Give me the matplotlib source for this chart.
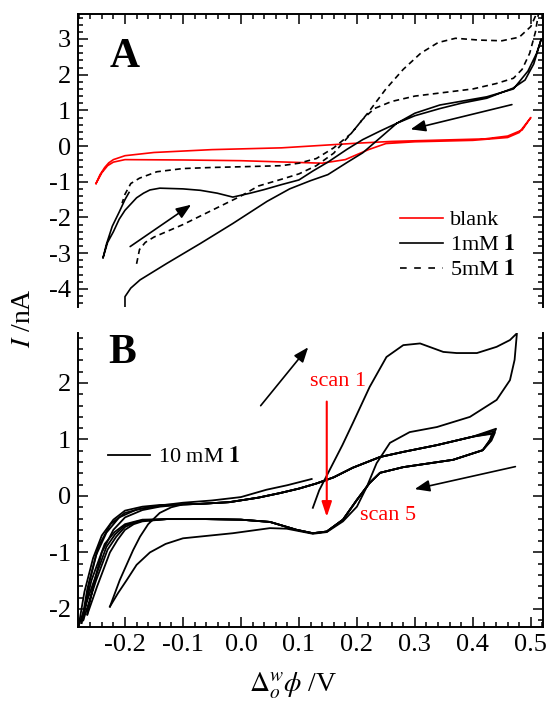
import matplotlib
matplotlib.use("Agg")
import matplotlib.pyplot as plt
from matplotlib.lines import Line2D
from matplotlib.ticker import MultipleLocator, FormatStrFormatter

plt.rcParams['font.family'] = ['Liberation Serif', 'DejaVu Serif']
plt.rcParams['mathtext.fontset'] = 'stix'
plt.rcParams['axes.unicode_minus'] = False

# ---------------- panel A: blank, 1 mM, 5 mM ----------------
BLANK_X = [-0.25, -0.243, -0.235, -0.228, -0.22, -0.2, -0.15, -0.05, 0.07, 0.2, 0.26, 0.35, 0.42, 0.46,
           0.485, 0.5,
           0.48, 0.46, 0.4, 0.3, 0.25, 0.22, 0.18, 0.14, 0.1, 0.0, -0.1, -0.2, -0.22, -0.23, -0.24, -0.25]
BLANK_I = [-1.05, -0.8, -0.6, -0.47, -0.38, -0.27, -0.18, -0.1, -0.05, 0.08, 0.13, 0.17, 0.2, 0.28,
           0.45, 0.8,
           0.38, 0.24, 0.16, 0.12, 0.07, -0.1, -0.38, -0.48, -0.46, -0.41, -0.39, -0.38, -0.45, -0.55,
           -0.75, -1.05]

MM1_X = [-0.2, -0.2, -0.19, -0.174, -0.128, -0.07, -0.014, 0.045, 0.084, 0.12, 0.15, 0.183, 0.21, 0.24,
         0.269, 0.3, 0.343, 0.424, 0.47, 0.495, 0.51, 0.518,
         0.505, 0.49, 0.469, 0.424, 0.38, 0.343, 0.3, 0.269, 0.24, 0.21, 0.183, 0.15, 0.124, 0.1, 0.07,
         0.04, 0.016, -0.014, -0.041, -0.07, -0.1, -0.14, -0.157, -0.168, -0.18, -0.2, -0.21, -0.22,
         -0.23, -0.238,
         -0.232, -0.222, -0.21, -0.2, -0.193]
MM1_I = [-4.6, -4.22, -3.98, -3.75, -3.29, -2.73, -2.17, -1.55, -1.2, -0.97, -0.8, -0.46, -0.19, 0.23,
         0.64, 0.92, 1.15, 1.38, 1.6, 2.1, 2.6, 3.0,
         2.3, 1.85, 1.62, 1.34, 1.2, 1.05, 0.85, 0.64, 0.42, 0.18, -0.09, -0.45, -0.7, -0.95, -1.08,
         -1.22, -1.32, -1.43, -1.32, -1.24, -1.2, -1.18, -1.23, -1.32, -1.45, -1.8, -2.05, -2.4,
         -2.7, -3.14,
         -2.75, -2.25, -1.85, -1.5, -1.3]

MM5_X = [-0.18, -0.175, -0.165, -0.15, -0.1, -0.05, 0.0, 0.03, 0.07, 0.1, 0.13, 0.16, 0.19, 0.22, 0.25,
         0.28, 0.31, 0.34, 0.37, 0.41, 0.45, 0.48, 0.5, 0.515,
         0.508, 0.498, 0.485, 0.47, 0.44, 0.4, 0.35, 0.3, 0.26, 0.23, 0.21, 0.19, 0.16, 0.13, 0.1, 0.07,
         0.0, -0.05, -0.1, -0.145, -0.175, -0.19, -0.2, -0.205]
MM5_I = [-3.3, -2.9, -2.7, -2.55, -2.2, -1.8, -1.4, -1.12, -0.93, -0.78, -0.55, -0.2, 0.35, 0.95, 1.6,
         2.15, 2.6, 2.9, 3.02, 2.97, 2.95, 3.05, 3.35, 3.9,
         3.2, 2.6, 2.15, 1.9, 1.75, 1.6, 1.5, 1.4, 1.25, 1.05, 0.75, 0.35, -0.05, -0.35, -0.48, -0.55,
         -0.58, -0.6, -0.63, -0.72, -0.9, -1.05, -1.35, -1.6]

# ---------------- panel B: 10 mM, five scans ----------------
SCAN1_X = [0.124, 0.135, 0.153, 0.175, 0.193, 0.222, 0.251, 0.28, 0.309, 0.349, 0.372, 0.407, 0.441,
           0.464, 0.476,
           0.472, 0.464, 0.441, 0.395, 0.338, 0.291, 0.257, 0.234, 0.217, 0.2, 0.176, 0.148, 0.124,
           0.079, 0.05, -0.014, -0.1, -0.13, -0.157, -0.18, -0.197, -0.212, -0.226]
SCAN1_I = [-0.21, 0.1, 0.46, 0.9, 1.29, 1.93, 2.46, 2.67, 2.7, 2.55, 2.53, 2.53, 2.64, 2.76, 2.88,
           2.41, 2.05, 1.7, 1.4, 1.22, 1.13, 0.94, 0.58, 0.16, -0.19, -0.45, -0.64, -0.67,
           -0.58, -0.57, -0.66, -0.75, -0.85, -1.0, -1.22, -1.49, -1.72, -1.96]

# shared middle of the repeated loops (scans 2-5)
UP_MID_X = [-0.1, -0.07, -0.02, 0.03, 0.067, 0.1, 0.13, 0.16, 0.193, 0.24, 0.28, 0.338, 0.4]
UP_MID_I = [-0.15, -0.14, -0.11, -0.03, 0.05, 0.13, 0.22, 0.33, 0.5, 0.69, 0.78, 0.9, 1.05]
LO_MID_X = [0.417, 0.366, 0.28, 0.24, 0.222, 0.2, 0.176, 0.148, 0.124, 0.096, 0.05, 0.0, -0.06, -0.128]
LO_MID_I = [0.81, 0.64, 0.51, 0.41, 0.23, -0.07, -0.42, -0.63, -0.66, -0.6, -0.46, -0.42, -0.41, -0.41]

# per-scan left knees and right vertices
KNEE_UP_X = [[-0.226, -0.209, -0.186, -0.174, -0.16, -0.14, -0.12],
             [-0.265, -0.255, -0.24, -0.22, -0.2, -0.17, -0.14],
             [-0.272, -0.262, -0.246, -0.225, -0.2, -0.17, -0.14],
             [-0.28, -0.27, -0.255, -0.24, -0.22, -0.2, -0.17, -0.14]]
KNEE_UP_I = [[-1.96, -1.49, -0.96, -0.72, -0.5, -0.3, -0.2],
             [-2.1, -1.6, -1.0, -0.6, -0.38, -0.25, -0.19],
             [-2.2, -1.55, -0.9, -0.5, -0.3, -0.22, -0.18],
             [-2.3, -1.7, -1.1, -0.7, -0.42, -0.26, -0.19, -0.16]]
VERTEX_X = [[0.44, 0.434], [0.436, 0.43], [0.438, 0.432], [0.433, 0.428]]
VERTEX_I = [[1.19, 1.05], [1.15, 1.0], [1.12, 0.98], [1.1, 0.95]]
KNEE_DN_X = [[-0.17, -0.185, -0.2, -0.213, -0.226, -0.248, -0.265],
             [-0.17, -0.185, -0.2, -0.215, -0.23, -0.25, -0.272],
             [-0.17, -0.185, -0.2, -0.217, -0.232, -0.255, -0.28],
             [-0.17, -0.185, -0.2, -0.218, -0.235, -0.258, -0.275]]
KNEE_DN_I = [[-0.45, -0.5, -0.6, -0.78, -1.0, -1.6, -2.1],
             [-0.44, -0.48, -0.55, -0.72, -0.95, -1.5, -2.2],
             [-0.43, -0.47, -0.52, -0.68, -0.9, -1.55, -2.3],
             [-0.42, -0.46, -0.5, -0.64, -0.85, -1.5, -2.25]]

LAST_X = [-0.275, -0.265, -0.25, -0.232, -0.21, -0.18, -0.14, -0.1, -0.05, 0.0, 0.044, 0.08, 0.122]
LAST_I = [-2.25, -1.65, -1.05, -0.65, -0.38, -0.24, -0.17, -0.12, -0.08, -0.02, 0.11, 0.19, 0.3]


def style_axis(ax, ylim, show_bottom):
    ax.set_xlim(-0.281, 0.521)
    ax.set_ylim(*ylim)
    ax.xaxis.set_major_locator(MultipleLocator(0.1))
    ax.xaxis.set_minor_locator(MultipleLocator(0.02))
    ax.yaxis.set_major_locator(MultipleLocator(1))
    ax.yaxis.set_minor_locator(MultipleLocator(0.2))
    ax.xaxis.set_major_formatter(FormatStrFormatter('%.1f'))
    ax.yaxis.set_major_formatter(FormatStrFormatter('%d'))
    for s in ax.spines.values():
        s.set_linewidth(1.4)
    ax.spines['bottom' if not show_bottom else 'top'].set_visible(False)
    ax.tick_params(which='both', direction='in', left=True, right=True,
                   top=not show_bottom, bottom=show_bottom, labelbottom=show_bottom,
                   labelsize=19, width=1.1, pad=5)
    ax.tick_params(which='major', length=7)
    ax.tick_params(which='minor', length=3.5)


fig = plt.figure(figsize=(5.51, 7.04), dpi=100)
axA = fig.add_axes([0.1416, 0.5639, 0.8439, 0.4162])
axB = fig.add_axes([0.1416, 0.1094, 0.8439, 0.4176])

# panel A
axA.plot(BLANK_X, BLANK_I, color='#ff0000', lw=1.2)
axA.plot(MM1_X, MM1_I, color='black', lw=1.2)
axA.plot(MM5_X, MM5_I, color='black', lw=1.2, linestyle=(0, (3.5, 2.5)))
arrow_kw = dict(arrowstyle='-|>,head_length=0.9,head_width=0.35', color='black', lw=1.2)
axA.annotate('', xy=(-0.082, -1.6), xytext=(-0.195, -2.86), arrowprops=arrow_kw)
axA.annotate('', xy=(0.288, 0.45), xytext=(0.472, 1.18), arrowprops=arrow_kw)
style_axis(axA, (-4.51, 3.7), show_bottom=False)
handles = [Line2D([], [], color='#ff0000', lw=1.2),
           Line2D([], [], color='black', lw=1.2),
           Line2D([], [], color='black', lw=1.2, linestyle=(0, (4, 4.5)))]
axA.legend(handles, ['blank', r'1mM $\mathbf{1}$', r'5mM $\mathbf{1}$'],
           loc='upper left', bbox_to_anchor=(0.66, 0.385), frameon=False, fontsize=16,
           handlelength=1.9, handletextpad=0.35, labelspacing=0.2, borderpad=0.2)
axA.text(0.101, 0.853, 'A', transform=axA.transAxes, fontsize=30, fontweight='bold',
         ha='center', va='center')

# panel B
axB.plot(SCAN1_X, SCAN1_I, color='black', lw=1.3)
for k in range(4):
    xs = KNEE_UP_X[k] + UP_MID_X + VERTEX_X[k] + LO_MID_X + KNEE_DN_X[k]
    ys = KNEE_UP_I[k] + UP_MID_I + VERTEX_I[k] + LO_MID_I + KNEE_DN_I[k]
    axB.plot(xs, ys, color='black', lw=1.3)
axB.plot(LAST_X, LAST_I, color='black', lw=1.3)
axB.annotate('', xy=(0.119, 2.67), xytext=(0.031, 1.56), arrowprops=arrow_kw)
axB.annotate('', xy=(0.295, 0.11), xytext=(0.478, 0.53), arrowprops=arrow_kw)
axB.annotate('', xy=(0.148, -0.42), xytext=(0.148, 1.72),
             arrowprops=dict(arrowstyle='-|>,head_length=0.9,head_width=0.3', color='#ff0000', lw=1.5))
axB.text(0.167, 2.02, 'scan 1', color='#ff0000', fontsize=16, ha='center', va='center')
axB.text(0.253, -0.34, 'scan 5', color='#ff0000', fontsize=16, ha='center', va='center')
style_axis(axB, (-2.32, 2.885), show_bottom=True)
axB.legend([Line2D([], [], color='black', lw=1.3)], [r'10 mM $\mathbf{1}$'],
           loc='center left', bbox_to_anchor=(0.03, 0.578), frameon=False, fontsize=16,
           handlelength=1.9, handletextpad=0.35, borderpad=0.2)
axB.text(0.095, 0.932, 'B', transform=axB.transAxes, fontsize=30, fontweight='bold',
         ha='center', va='center')

fig.text(23 / 551, 1 - 318 / 704, r'$I$ /nA', rotation=90, fontsize=20, ha='center', va='center')
fig.text(293 / 551, 1 - 686 / 704, r'$\Delta_o^w\phi$ /V', fontsize=20, ha='center', va='center')

fig.savefig('out.png', dpi=100)
